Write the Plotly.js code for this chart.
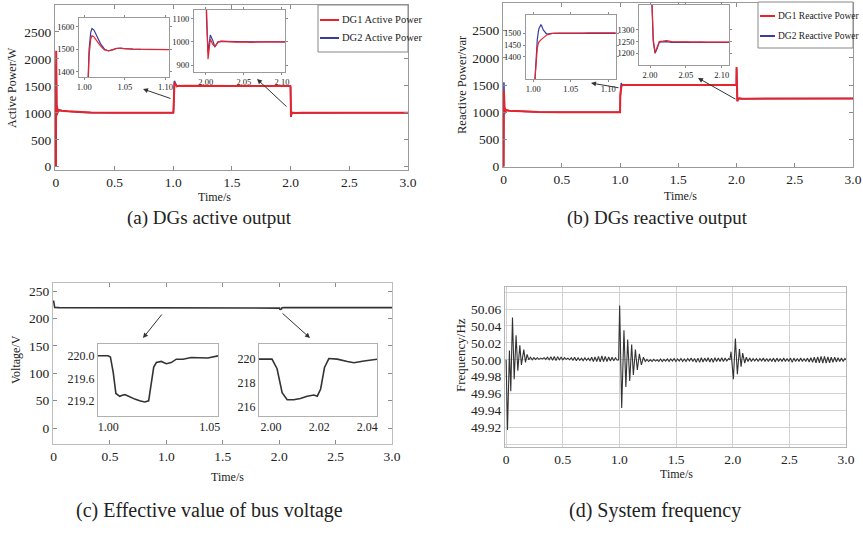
<!DOCTYPE html>
<html>
<head>
<meta charset="utf-8">
<script src="https://cdn.plot.ly/plotly-3.0.1.min.js"></script>
<style>html,body{margin:0;padding:0;background:#fff;}#chart{width:863px;height:534px;}</style>
</head>
<body>
<div id="chart"></div>
<script>
// ---------- (a) Active power ----------
const activeTime = [0, 0.001, 0.002, 0.004, 0.006, 0.008, 0.010, 0.013, 0.016, 0.020, 0.030, 0.050, 0.100, 0.200, 0.300, 0.500, 0.990,
  1.000, 1.002, 1.004, 1.006, 1.008, 1.0096, 1.012, 1.015, 1.020, 1.025, 1.030, 1.035, 1.040, 1.045, 1.050, 1.060, 1.070, 1.080, 1.090, 1.100, 1.500,
  1.997, 1.999, 2.001, 2.003, 2.006, 2.009, 2.012, 2.016, 2.020, 2.030, 2.040, 2.050, 2.060, 2.070, 2.080, 2.090, 2.100, 2.500, 3.000];
const dg1Active = [0, 1200, 2150, 880, 1150, 950, 1120, 990, 1070, 1040, 1050, 1040, 1030, 1015, 1005, 1000, 1000,
  1000, 1050, 1300, 1470, 1545, 1560, 1555, 1540, 1515, 1497, 1493, 1498, 1503, 1504, 1502, 1500, 1499, 1501, 1500, 1502, 1500,
  1500, 1480, 1150, 925, 1012, 990, 980, 998, 1003, 1000, 999, 1000, 998, 1000, 1001, 999, 1000, 1000, 1000];
const dg2Active = [0, 1100, 1900, 950, 1120, 970, 1100, 1000, 1060, 1040, 1045, 1038, 1028, 1013, 1004, 1000, 1000,
  1000, 1060, 1330, 1500, 1575, 1592, 1585, 1560, 1525, 1500, 1492, 1497, 1504, 1505, 1502, 1500, 1500, 1501, 1500, 1501, 1500,
  1500, 1470, 1100, 955, 1030, 1008, 978, 1000, 1002, 1001, 1000, 1001, 999, 1000, 1000, 1000, 999, 1000, 1000];

// ---------- (b) Reactive power ----------
const reactiveTime = [0, 0.001, 0.003, 0.005, 0.007, 0.009, 0.012, 0.015, 0.020, 0.030, 0.050, 0.100, 0.200, 0.300, 0.500, 0.990,
  1.000, 1.0022, 1.0044, 1.0053, 1.0067, 1.0076, 1.0102, 1.0111, 1.0133, 1.0169, 1.0178, 1.0244, 1.0267, 1.035, 1.045, 1.055, 1.065, 1.075, 1.085, 1.095, 1.105, 1.500,
  1.999, 2.0005, 2.0023, 2.0045, 2.0070, 2.0100, 2.0130, 2.0180, 2.0232, 2.030, 2.040, 2.050, 2.060, 2.070, 2.080, 2.090, 2.100, 2.500, 3.000];
const dg1Reactive = [0, 700, 1400, 1000, 1150, 980, 1080, 1010, 1040, 1030, 1025, 1020, 1010, 1003, 1000, 1000,
  1000, 1300, 1414, 1435, 1457, 1463, 1472, 1474, 1482, 1490, 1493, 1499, 1500, 1501, 1500, 1502, 1501, 1502, 1501, 1503, 1502, 1500,
  1500, 1830, 1450, 1260, 1203, 1225, 1250, 1252, 1255, 1250, 1248, 1249, 1248, 1249, 1248, 1250, 1249, 1250, 1250];
const dg2Reactive = [0, 900, 1550, 930, 1120, 960, 1060, 1000, 1035, 1030, 1025, 1020, 1010, 1003, 1000, 1000,
  1000, 1300, 1440, 1471, 1505, 1521, 1536, 1533, 1514, 1498, 1497, 1500, 1500, 1500, 1501, 1500, 1501, 1500, 1501, 1502, 1501, 1500,
  1500, 1800, 1440, 1250, 1200, 1222, 1248, 1249, 1250, 1247, 1248, 1247, 1248, 1248, 1247, 1249, 1248, 1250, 1250];

// ---------- (c) Bus voltage ----------
const voltTime = [0, 0.002, 0.010, 0.050, 0.500, 0.995,
  1.000, 1.0011, 1.0025, 1.0038, 1.0057, 1.0070, 1.0082, 1.0095, 1.0106, 1.0131, 1.0155, 1.0180, 1.0199, 1.0212, 1.0224, 1.0237, 1.0261, 1.0286, 1.0310, 1.0335, 1.0368, 1.0408, 1.0449, 1.0490, 1.0540,
  1.200, 1.500, 1.995,
  2.0004, 2.0025, 2.0046, 2.0067, 2.0094, 2.0122, 2.0150, 2.0178, 2.0192, 2.0206, 2.0222, 2.0240, 2.0275, 2.0317, 2.0344, 2.0386, 2.0442,
  2.500, 3.000];
const busVoltage = [233, 226, 220.5, 220, 220, 220,
  220.0, 219.98, 219.7, 219.33, 219.28, 219.30, 219.31, 219.29, 219.27, 219.23, 219.20, 219.18, 219.20, 219.5, 219.8, 219.88, 219.90, 219.86, 219.88, 219.94, 219.94, 219.97, 219.97, 219.96, 220.0,
  220, 220, 220,
  220, 219.2, 217.2, 216.6, 216.6, 216.7, 216.9, 217.0, 216.9, 217.5, 219.3, 220.05, 220.0, 219.8, 219.7, 219.85, 220.0,
  220, 220];

// ---------- (d) System frequency ----------
const freqTime = [0, 0.012, 0.029, 0.041, 0.056, 0.071, 0.088, 0.103, 0.121, 0.135, 0.156, 0.171, 0.185, 0.200,
  0.215, 0.230, 0.245, 0.260, 0.275, 0.290, 0.305, 0.320, 0.335, 0.350, 0.365, 0.380, 0.395, 0.410, 0.425, 0.440, 0.455, 0.470, 0.485, 0.500,
  0.515, 0.530, 0.545, 0.560, 0.575, 0.590, 0.605, 0.620, 0.635, 0.650, 0.665, 0.680, 0.695, 0.710, 0.725, 0.740, 0.755, 0.770, 0.785, 0.800,
  0.815, 0.830, 0.845, 0.860, 0.875, 0.890, 0.905, 0.920, 0.935, 0.950, 0.965, 0.980, 0.993,
  1.002, 1.020, 1.040, 1.057, 1.073, 1.091, 1.108, 1.123, 1.141, 1.158, 1.176, 1.194, 1.212, 1.228,
  1.243, 1.258, 1.273, 1.288, 1.303, 1.318, 1.333, 1.348, 1.363, 1.378, 1.393, 1.408, 1.423, 1.438, 1.453, 1.468, 1.483, 1.498,
  1.513, 1.528, 1.543, 1.558, 1.573, 1.588, 1.603, 1.618, 1.633, 1.648, 1.663, 1.678, 1.693, 1.708, 1.723, 1.738, 1.753, 1.768,
  1.783, 1.798, 1.813, 1.828, 1.843, 1.858, 1.873, 1.888, 1.903, 1.918, 1.933, 1.948, 1.963, 1.975,
  1.985, 2.006, 2.0235, 2.041, 2.059, 2.074, 2.088, 2.106, 2.120,
  2.135, 2.150, 2.165, 2.180, 2.195, 2.210, 2.225, 2.240, 2.255, 2.270, 2.285, 2.300, 2.315, 2.330, 2.345, 2.360, 2.375, 2.390, 2.405, 2.420,
  2.435, 2.450, 2.465, 2.480, 2.495, 2.510, 2.525, 2.540, 2.555, 2.570, 2.585, 2.600, 2.615, 2.630, 2.645, 2.660, 2.675, 2.690, 2.705, 2.720,
  2.735, 2.750, 2.765, 2.780, 2.795, 2.810, 2.825, 2.840, 2.855, 2.870, 2.885, 2.900, 2.915, 2.930, 2.945, 2.960, 2.975, 2.990, 3.000];
const frequency = [50.000, 49.917, 50.011, 49.963, 50.050, 49.977, 50.029, 49.987, 50.017, 49.994, 50.012, 49.997, 50.0065, 50.000,
  50.003, 50.000, 50.0025, 50.0005, 50.0025, 50.0005, 50.002, 50.001, 50.0025, 50.0005, 50.003, 50.000, 50.0035, 49.9995, 50.004, 49.999, 50.0035, 50.000, 50.003, 50.000,
  50.0025, 50.0005, 50.002, 50.000, 50.0025, 49.9995, 50.003, 49.999, 50.0025, 49.9995, 50.002, 49.999, 50.0025, 49.9995, 50.002, 49.999, 50.003, 49.998, 50.0035, 49.998,
  50.004, 49.9975, 50.0045, 49.998, 50.004, 49.998, 50.0035, 49.9985, 50.003, 49.999, 50.0025, 49.9995, 50.000,
  50.064, 49.943, 50.035, 49.968, 50.024, 49.975, 50.018, 49.982, 50.012, 49.988, 50.007, 49.994, 50.003, 49.998,
  50.0005, 49.998, 50.000, 49.998, 50.0005, 49.9985, 50.000, 49.998, 50.001, 49.998, 50.0005, 49.9985, 50.001, 49.998, 50.001, 49.9985, 50.0015, 49.998,
  50.001, 49.9985, 50.0015, 49.998, 50.001, 49.998, 50.0015, 49.9985, 50.002, 49.998, 50.0015, 49.997, 50.002, 49.997, 50.0025, 49.9975, 50.002, 49.998,
  50.0025, 49.9975, 50.002, 49.997, 50.0025, 49.998, 50.002, 49.998, 50.0025, 49.998, 50.002, 49.9985, 50.0015, 50.000,
  50.0096, 49.977, 50.025, 49.983, 50.0127, 49.992, 50.008, 49.996, 50.003,
  49.998, 50.002, 49.998, 50.0015, 49.9985, 50.0015, 49.998, 50.0015, 49.9985, 50.002, 49.998, 50.0015, 49.998, 50.0015, 49.998, 50.002, 49.9975, 50.002, 49.998, 50.0015,
  49.998, 50.002, 49.998, 50.0015, 49.998, 50.002, 49.997, 50.002, 49.998, 50.0015, 49.998, 50.002, 49.998, 50.0015, 49.998, 50.002, 49.9975, 50.0025, 49.997, 50.003,
  49.9965, 50.0035, 49.9965, 50.004, 49.996, 50.004, 49.996, 50.0035, 49.9965, 50.003, 49.997, 50.003, 49.9975, 50.0025, 49.998, 50.002, 49.998, 50.0015, 50.000];

// ---------- tick labels & texts ----------
const timeTickVals = [0, 0.5, 1.0, 1.5, 2.0, 2.5, 3.0];
const timeTickText = ['0', '0.5', '1.0', '1.5', '2.0', '2.5', '3.0'];
const powerTickVals = [0, 500, 1000, 1500, 2000, 2500];
const voltTickVals = [0, 50, 100, 150, 200, 250];
const freqTickVals = [49.90, 49.92, 49.94, 49.96, 49.98, 50.00, 50.02, 50.04, 50.06, 50.08];
const freqTickText = ['', '49.92', '49.94', '49.96', '49.98', '50.00', '50.02', '50.04', '50.06', ''];
const legendNames = ['DG1 Active Power', 'DG2 Active Power', 'DG1 Reactive Power', 'DG2 Reactive Power'];
const captions = ['(a) DGs active output', '(b) DGs reactive output', '(c) Effective value of bus voltage', '(d) System frequency'];

// ---------- styling helpers ----------
const W = 863, H = 534;
const SERIF = 'Liberation Serif, Times New Roman, serif';
const RED = '#e8232c', BLUE = '#3a3d9e', DARK = '#333333';
const px = v => v / W;
const py = v => 1 - v / H;

function axisBase(dom, anchor, range, fontSize) {
  return {
    domain: dom, anchor: anchor, range: range, autorange: false,
    showline: true, linecolor: '#9a9a9a', linewidth: 1, mirror: 'ticks',
    ticks: 'inside', ticklen: 4, tickcolor: '#8a8a8a',
    showgrid: false, zeroline: false,
    tickfont: {family: SERIF, size: fontSize, color: '#222'}
  };
}
function xdom(a, b) { return [px(a), px(b)]; }
function ydom(top, bottom) { return [py(bottom), py(top)]; }

const traces = [];
function line(x, y, xa, ya, color, width, extra) {
  traces.push(Object.assign({type: 'scatter', mode: 'lines', x: x, y: y, xaxis: xa, yaxis: ya,
    line: {color: color, width: width}, showlegend: false, hoverinfo: 'skip'}, extra || {}));
}

// (a)
line(activeTime, dg2Active, 'x', 'y', BLUE, 1.5, {name: legendNames[1]});
line(activeTime, dg1Active, 'x', 'y', RED, 2, {name: legendNames[0]});
line(activeTime, dg2Active, 'x2', 'y2', BLUE, 1.2);
line(activeTime, dg1Active, 'x2', 'y2', RED, 1.2);
line(activeTime, dg2Active, 'x3', 'y3', BLUE, 1.2);
line(activeTime, dg1Active, 'x3', 'y3', RED, 1.2);
// (b)
line(reactiveTime, dg2Reactive, 'x4', 'y4', BLUE, 1.5, {name: legendNames[3]});
line(reactiveTime, dg1Reactive, 'x4', 'y4', RED, 2, {name: legendNames[2]});
line(reactiveTime, dg2Reactive, 'x5', 'y5', BLUE, 1.2);
line(reactiveTime, dg1Reactive, 'x5', 'y5', RED, 1.2);
line(reactiveTime, dg2Reactive, 'x6', 'y6', BLUE, 1.2);
line(reactiveTime, dg1Reactive, 'x6', 'y6', RED, 1.2);
// (c)
line(voltTime, busVoltage, 'x7', 'y7', DARK, 1.6);
line(voltTime, busVoltage, 'x8', 'y8', DARK, 1.6);
line(voltTime, busVoltage, 'x9', 'y9', DARK, 1.6);
// (d)
line(freqTime, frequency, 'x10', 'y10', DARK, 1.1);

const MT = 13.5;
const layout = {
  width: W, height: H, margin: {l: 0, r: 0, t: 0, b: 0},
  paper_bgcolor: '#fff', plot_bgcolor: '#fff', showlegend: false,
  font: {family: SERIF, color: '#222'},
  // (a)
  xaxis: Object.assign(axisBase(xdom(55, 408), 'y', [-0.008, 3.0], MT), {tickvals: timeTickVals, ticktext: timeTickText}),
  yaxis: Object.assign(axisBase(ydom(5, 170), 'x', [-60, 3000], MT), {tickvals: powerTickVals}),
  xaxis2: Object.assign(axisBase(xdom(79, 169), 'y2', [0.9936, 1.1043], 8.5), {tickvals: [1.00, 1.05, 1.10], ticktext: ['1.00', '1.05', '1.10'], ticks: 'outside', ticklen: 2}),
  yaxis2: Object.assign(axisBase(ydom(18, 77), 'x2', [1376, 1639], 8.5), {tickvals: [1400, 1500, 1600], ticks: 'outside', ticklen: 2}),
  xaxis3: Object.assign(axisBase(xdom(194, 285), 'y3', [1.9846, 2.104], 8.5), {tickvals: [2.00, 2.05, 2.10], ticktext: ['2.00', '2.05', '2.10'], ticks: 'outside', ticklen: 2}),
  yaxis3: Object.assign(axisBase(ydom(10, 71.7), 'x3', [871, 1138], 8.5), {tickvals: [900, 1000, 1100], ticks: 'outside', ticklen: 2}),
  // (b)
  xaxis4: Object.assign(axisBase(xdom(503, 853), 'y4', [-0.005, 3.0], MT), {tickvals: timeTickVals, ticktext: timeTickText}),
  yaxis4: Object.assign(axisBase(ydom(3, 167), 'x4', [-10, 3010], MT), {tickvals: powerTickVals}),
  xaxis5: Object.assign(axisBase(xdom(525.7, 615.7), 'y5', [0.9899, 1.110], 8.5), {tickvals: [1.00, 1.05, 1.10], ticktext: ['1.00', '1.05', '1.10'], ticks: 'outside', ticklen: 2}),
  yaxis5: Object.assign(axisBase(ydom(15, 79), 'x5', [1305, 1578], 8.5), {tickvals: [1400, 1450, 1500], ticks: 'outside', ticklen: 2}),
  xaxis6: Object.assign(axisBase(xdom(639.3, 729.3), 'y6', [1.985, 2.1106], 8.5), {tickvals: [2.00, 2.05, 2.10], ticktext: ['2.00', '2.05', '2.10'], ticks: 'outside', ticklen: 2}),
  yaxis6: Object.assign(axisBase(ydom(5, 65), 'x6', [1150, 1407], 8.5), {tickvals: [1200, 1250, 1300], ticks: 'outside', ticklen: 2}),
  // (c)
  xaxis7: Object.assign(axisBase(xdom(53, 392), 'y7', [-0.005, 3.0], MT), {tickvals: timeTickVals, ticktext: timeTickText, linecolor: '#bdbdbd'}),
  yaxis7: Object.assign(axisBase(ydom(283, 444), 'x7', [-29, 265], MT), {tickvals: voltTickVals, linecolor: '#bdbdbd'}),
  xaxis8: Object.assign(axisBase(xdom(98, 218), 'y8', [0.995, 1.054], 12), {tickvals: [1.00, 1.05], ticktext: ['1.00', '1.05'], linecolor: '#b0b0b0', ticks: '', mirror: true}),
  yaxis8: Object.assign(axisBase(ydom(344, 416), 'x8', [218.93, 220.21], 12), {tickvals: [219.2, 219.6, 220.0], ticktext: ['219.2', '219.6', '220.0'], linecolor: '#b0b0b0', ticks: '', mirror: true}),
  xaxis9: Object.assign(axisBase(xdom(259, 377), 'y9', [1.995, 2.044], 12), {tickvals: [2.00, 2.02, 2.04], ticktext: ['2.00', '2.02', '2.04'], linecolor: '#b0b0b0', ticks: '', mirror: true}),
  yaxis9: Object.assign(axisBase(ydom(344, 416), 'x9', [215.24, 221.27], 12), {tickvals: [216, 218, 220], linecolor: '#b0b0b0', ticks: '', mirror: true}),
  // (d)
  xaxis10: Object.assign(axisBase(xdom(505, 846), 'y10', [-0.01, 3.0], MT), {tickvals: timeTickVals, ticktext: timeTickText, showgrid: true, gridcolor: '#d2d2d2', ticks: '', linecolor: '#b5b5b5'}),
  yaxis10: Object.assign(axisBase(ydom(287, 447), 'x10', [49.897, 50.086], MT), {tickvals: freqTickVals, ticktext: freqTickText, showgrid: true, gridcolor: '#d2d2d2', ticks: '', linecolor: '#b5b5b5'}),
  shapes: [],
  annotations: []
};

function text(t, x, y, size, angle, anchor) {
  layout.annotations.push({text: t, xref: 'paper', yref: 'paper', x: px(x), y: py(y), xanchor: anchor || 'center', yanchor: 'middle',
    showarrow: false, textangle: angle || 0, font: {family: SERIF, size: size, color: '#222'}});
}
function arrow(hx, hy, tx, ty) {
  layout.annotations.push({text: '', xref: 'paper', yref: 'paper', x: px(hx), y: py(hy), ax: tx - hx, ay: ty - hy,
    showarrow: true, arrowhead: 2, arrowsize: 1, arrowwidth: 1, arrowcolor: '#333', standoff: 0, startstandoff: 0});
}
// legend boxes (drawn as shapes + text)
function legendBox(x0, y0, x1, y1, lineLen, fontSize, items) {
  layout.shapes.push({type: 'rect', xref: 'paper', yref: 'paper', x0: px(x0), x1: px(x1), y0: py(y1), y1: py(y0),
    line: {color: '#888', width: 1}, fillcolor: '#fff'});
  items.forEach(it => {
    layout.shapes.push({type: 'line', xref: 'paper', yref: 'paper', x0: px(x0 + 2), x1: px(x0 + 2 + lineLen), y0: py(it.y), y1: py(it.y),
      line: {color: it.color, width: 2}});
    text(it.name, x0 + 3 + lineLen, it.y, fontSize, 0, 'left');
  });
}
legendBox(318, 5, 408, 52, 19, 10.5, [{name: legendNames[0], color: RED, y: 20}, {name: legendNames[1], color: BLUE, y: 38}]);
legendBox(758, 2, 853, 48, 15, 9.5, [{name: legendNames[2], color: RED, y: 16}, {name: legendNames[3], color: BLUE, y: 36}]);

// axis titles
text('Time/s', 214, 197, 12);
text('Time/s', 680, 196, 12);
text('Time/s', 228, 477, 12);
text('Time/s', 676, 474, 12);
text('Active Power/W', 12, 88, 12, -90);
text('Reactive Power/var', 462, 85, 12.5, -90);
text('Voltage/V', 16, 360, 12, -90);
text('Frequency/Hz', 460, 355, 13, -90);
// captions
text(captions[0], 209, 218, 19);
text(captions[1], 657, 218, 19);
text(captions[2], 209, 510, 20);
text(captions[3], 655, 510, 20);
// arrows
arrow(143, 89, 172, 99);
arrow(257, 79, 288, 108);
arrow(591, 83, 620, 88);
arrow(698, 78, 737, 100);
arrow(143, 338, 163, 313);
arrow(310, 338, 281, 312);

Plotly.newPlot('chart', traces, layout, {staticPlot: true, displayModeBar: false});
</script>
</body>
</html>
